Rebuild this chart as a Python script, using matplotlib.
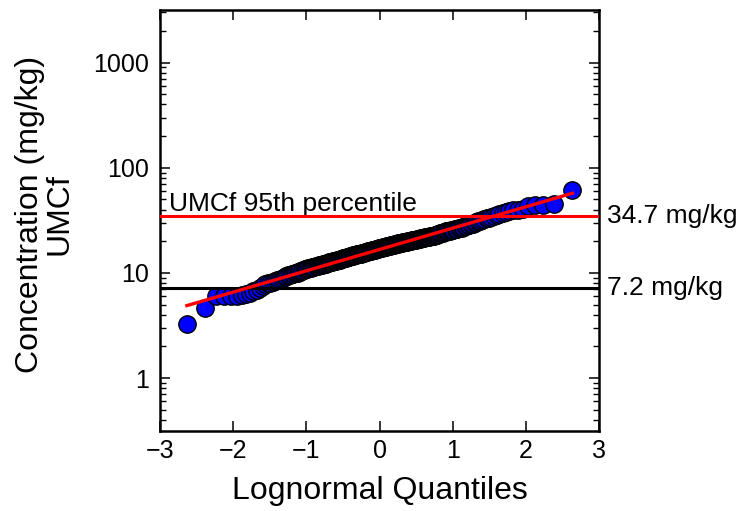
import numpy as np
import matplotlib
matplotlib.use('Agg')
import matplotlib.pyplot as plt
from matplotlib.ticker import FixedLocator, NullFormatter, LogLocator
from statistics import NormalDist

plt.rcParams['font.family'] = ['Liberation Sans', 'DejaVu Sans']

# ---- data (sorted UMCf concentrations, mg/kg) ----
conc = [
    3.3, 4.6,
    6.0, 6.0, 6.1, 6.1, 6.2, 6.3, 6.4,
    6.7, 6.9, 7.2, 7.5, 7.8, 8.0,
    8.1, 8.2, 8.3, 8.5, 8.6, 8.8, 8.9, 9.1, 9.3,
    9.5, 9.6, 9.7, 9.8, 9.9, 10.0, 10.1, 10.2, 10.4, 10.5, 10.6, 10.8,
    10.9, 11.0, 11.1, 11.2, 11.2, 11.3, 11.4, 11.5, 11.6, 11.6, 11.7, 11.8, 11.9, 11.9, 12.0, 12.1,
    12.2, 12.3, 12.3, 12.4, 12.5, 12.6, 12.6, 12.7, 12.8, 12.9, 12.9, 13.0, 13.1, 13.2, 13.2, 13.3,
    13.4, 13.5, 13.6, 13.7,
    13.8, 13.9, 13.9, 14.0, 14.1, 14.2, 14.2, 14.3, 14.4, 14.5, 14.5, 14.6, 14.7, 14.8, 14.8, 14.9,
    15.0, 15.0, 15.1, 15.2, 15.2, 15.3,
    15.4, 15.5, 15.6, 15.6, 15.7, 15.8, 15.9, 15.9, 16.0, 16.1, 16.2, 16.2, 16.3, 16.4, 16.5, 16.5,
    16.6, 16.7, 16.8, 16.8, 16.9, 17.0, 17.1,
    17.2, 17.3, 17.4, 17.4, 17.5, 17.6, 17.7, 17.8, 17.8, 17.9, 18.0, 18.1, 18.1, 18.2, 18.3, 18.4,
    18.4, 18.5, 18.6, 18.7, 18.7, 18.8, 18.9,
    19.0, 19.1, 19.2, 19.2, 19.3, 19.4, 19.5, 19.6, 19.6, 19.7, 19.8, 19.9, 20.0, 20.0, 20.1, 20.2,
    20.3, 20.4, 20.4, 20.5, 20.6, 20.7,
    20.8, 20.9, 21.0, 21.1, 21.2, 21.3, 21.4, 21.5, 21.6, 21.7, 21.8, 21.9, 22.0, 22.1, 22.2, 22.3,
    22.4, 22.5, 22.6, 22.7,
    22.8, 23.0, 23.2, 23.4, 23.6, 23.8, 24.0, 24.2, 24.4, 24.6, 24.8, 25.0, 25.1, 25.3, 25.4, 25.6,
    25.8, 26.0, 26.2, 26.4, 26.5, 26.7, 27.0, 27.3, 27.7, 28.0, 28.3, 28.7,
    29.0, 29.5, 30.0, 30.5, 31.0, 31.5, 32.0, 32.5, 33.0,
    33.5, 34.3, 35.0, 35.8, 36.5, 37.3, 38.0, 39.0,
    39.5, 40.0, 41.0,
    43.5, 44.0, 44.5, 45.0,
    62.0,
]

x_ticks = [-3, -2, -1, 0, 1, 2, 3]
y_ticks = [1, 10, 100, 1000]
y_tick_labels = ['1', '10', '100', '1000']
pct95_value = 34.7
bkg_value = 7.2
pct95_text = 'UMCf 95th percentile'
right_labels = ['34.7 mg/kg', '7.2 mg/kg']

# ---- lognormal probability-plot positions (Weibull plotting positions) ----
vals = np.sort(np.array(conc, dtype=float))
n = len(vals)
quant = np.array([NormalDist().inv_cdf(i / (n + 1.0)) for i in range(1, n + 1)])
slope, icpt = np.polyfit(quant, np.log10(vals), 1)
fit_x = np.array([quant[0], quant[-1]])
fit_y = 10 ** (icpt + slope * fit_x)

fig = plt.figure(figsize=(7.56, 5.11), dpi=100)
ax = fig.add_axes([0.2116, 0.1571, 0.5811, 0.8233])

ax.plot(quant, vals, linestyle='none', marker='o', markersize=12.5,
        markerfacecolor='#0000ff', markeredgecolor='black', markeredgewidth=1.0, zorder=3)
ax.axhline(pct95_value, color='#ff0000', lw=2.2, zorder=4)
ax.axhline(bkg_value, color='black', lw=2.2, zorder=4)
ax.plot(fit_x, fit_y, color='#ff0000', lw=2.4, zorder=5)

ax.set_yscale('log')
ax.set_xlim(-3, 3)
ax.set_ylim(10 ** -0.5, 10 ** 3.5)

ax.xaxis.set_major_locator(FixedLocator(x_ticks))
ax.set_xticklabels(['\u22123', '\u22122', '\u22121', '0', '1', '2', '3'])
ax.yaxis.set_major_locator(FixedLocator(y_ticks))
ax.set_yticklabels(y_tick_labels)
ax.yaxis.set_minor_locator(LogLocator(base=10, subs=np.arange(2, 10)))
ax.yaxis.set_minor_formatter(NullFormatter())

ax.tick_params(which='both', direction='in', top=True, right=True, labelsize=18, colors='black')
ax.tick_params(which='major', length=7, width=1.1)
ax.tick_params(which='minor', length=4, width=1.0)
ax.tick_params(axis='x', pad=6)
ax.tick_params(axis='y', pad=8)
for s in ax.spines.values():
    s.set_linewidth(1.8)

ax.set_xlabel('Lognormal Quantiles', fontsize=23)
ax.set_ylabel('Concentration (mg/kg)\nUMCf', fontsize=23, linespacing=0.95)
ax.xaxis.set_label_coords(0.5, -0.108)
ax.yaxis.set_label_coords(-0.195, 0.515)

ax.text(-2.88, 38.6, pct95_text, fontsize=19, ha='left', va='baseline')
tr = ax.get_yaxis_transform()
ax.text(1.018, pct95_value, right_labels[0], transform=tr, fontsize=19, ha='left', va='center', clip_on=False)
ax.text(1.018, bkg_value, right_labels[1], transform=tr, fontsize=19, ha='left', va='center', clip_on=False)

fig.savefig('out.png', dpi=100)
